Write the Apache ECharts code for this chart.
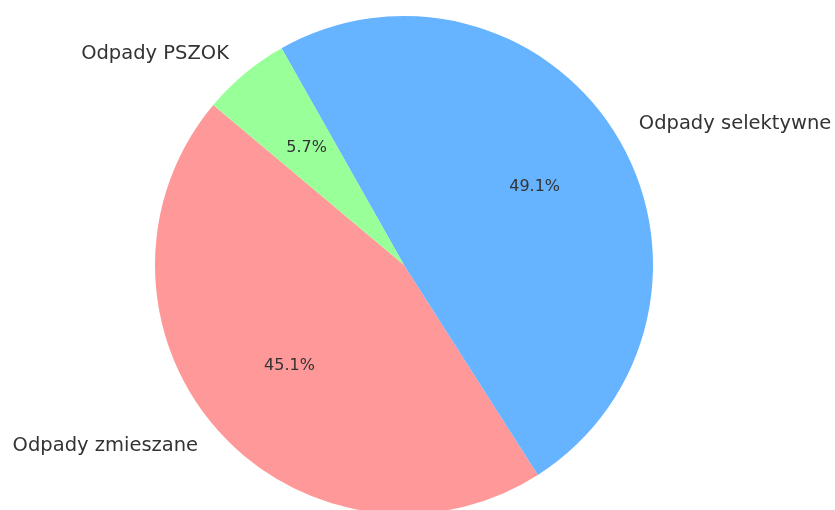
<!DOCTYPE html>
<html>
<head>
<meta charset="utf-8">
<script src="https://cdn.jsdelivr.net/npm/echarts@6/dist/echarts.min.js"></script>
<style>
  html, body { margin: 0; padding: 0; background: #fff; }
  #chart { width: 835px; height: 510px; }
</style>
</head>
<body>
<div id="chart"></div>
<script>
// Waste categories and their share (%)
const categories = ['Odpady zmieszane', 'Odpady selektywne', 'Odpady PSZOK'];
const shares = [45.1, 49.1, 5.7];
const colors = ['#ff9999', '#66b3ff', '#99ff99'];

const R = 249;
const CENTER = [404, 265];
const FONT = 'DejaVu Sans';

const sliceData = categories.map((name, i) => ({
  name: name,
  value: shares[i],
  itemStyle: { color: colors[i] }
}));

const chart = echarts.init(document.getElementById('chart'), null, { renderer: 'canvas' });

chart.setOption({
  animation: false,
  backgroundColor: '#ffffff',
  series: [
    {
      // Visible slices with category names placed just outside the rim
      type: 'pie',
      center: CENTER,
      radius: [0, R],
      startAngle: 140,
      clockwise: false,
      avoidLabelOverlap: false,
      silent: true,
      itemStyle: { borderWidth: 0 },
      label: {
        show: true,
        position: 'outside',
        formatter: '{b}',
        color: '#333333',
        fontFamily: FONT,
        fontSize: 19.5,
        distanceToLabelLine: 0
      },
      labelLine: { show: false, length: R * 0.1, length2: 0 },
      data: sliceData
    },
    {
      // Transparent overlay that carries the percentage labels at 0.6 R
      type: 'pie',
      center: CENTER,
      radius: [0, R * 1.2],
      startAngle: 140,
      clockwise: false,
      avoidLabelOverlap: false,
      silent: true,
      itemStyle: { color: 'rgba(0,0,0,0)', borderWidth: 0 },
      label: {
        show: true,
        position: 'inside',
        formatter: p => p.value.toFixed(1) + '%',
        color: '#333333',
        fontFamily: FONT,
        fontSize: 16
      },
      labelLine: { show: false },
      data: categories.map((name, i) => ({ name: name, value: shares[i] }))
    }
  ]
});
</script>
</body>
</html>
